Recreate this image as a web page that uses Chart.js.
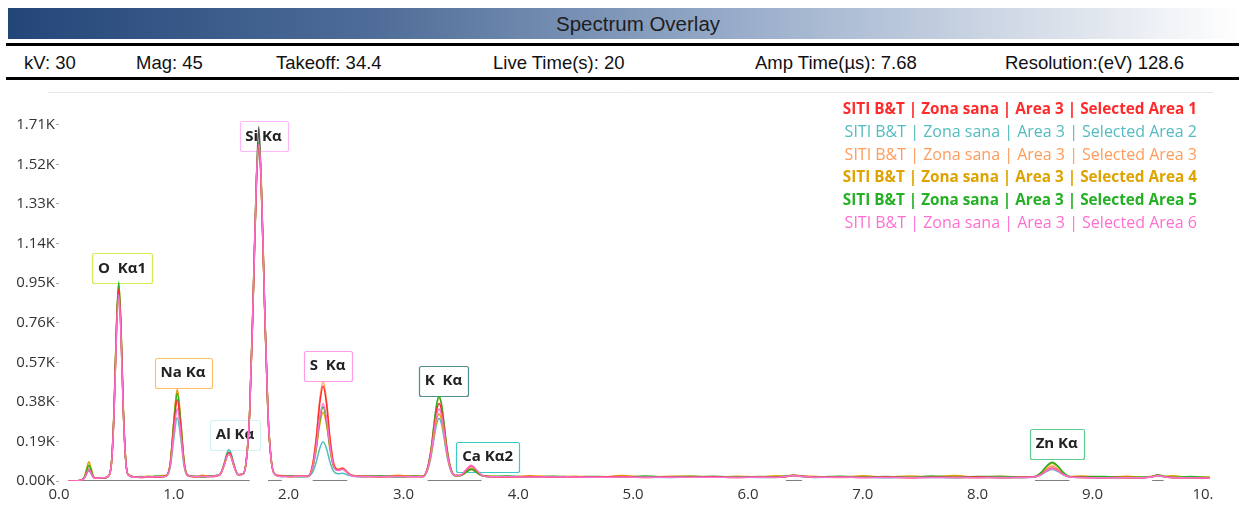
<!DOCTYPE html>
<html>
<head>
<meta charset="utf-8">
<title>Spectrum Overlay</title>
<script src="https://cdn.jsdelivr.net/npm/chart.js@4.4.1/dist/chart.umd.min.js"></script>
<style>
  body { margin: 0; background: #fff; }
  #page { position: relative; width: 1239px; height: 506px; overflow: hidden; font-family: "Liberation Sans", Arial, sans-serif; }
  #banner { position: absolute; left: 8px; top: 8px; width: 1231px; height: 31px;
            background: linear-gradient(to right, #234679 0%, #4f6d98 30%, #9aaecb 60%, #d9e0ea 85%, #ffffff 100%); }
  #banner span { position: absolute; left: 548px; top: 4px; font-size: 20.5px; color: #1e1e1e; }
  .rule { position: absolute; left: 6px; right: 0; height: 3px; background: #000; }
  .info { position: absolute; top: 52px; font-size: 18.5px; color: #111; white-space: nowrap; }
  #plot { position: absolute; left: 0; top: 82px; width: 1213px; height: 424px; overflow: hidden; }
</style>
</head>
<body>
<div id="page">
  <div id="banner"><span>Spectrum Overlay</span></div>
  <div class="rule" style="top:43px"></div>
  <span class="info" style="left:24px">kV: 30</span>
  <span class="info" style="left:136px">Mag: 45</span>
  <span class="info" style="left:276px">Takeoff: 34.4</span>
  <span class="info" style="left:493px">Live Time(s): 20</span>
  <span class="info" style="left:755px">Amp Time(µs): 7.68</span>
  <span class="info" style="left:1005px">Resolution:(eV) 128.6</span>
  <div class="rule" style="top:77px"></div>
  <div id="plot"><canvas id="spectrum" width="1239" height="424"></canvas></div>
</div>
<script>
// energy axis (keV), denser around the peaks
const energy = [
  0.08, 0.14, 0.18,
  0.20, 0.22, 0.24, 0.26, 0.28, 0.30, 0.32,
  0.36, 0.40,
  0.44, 0.46, 0.48, 0.50, 0.52, 0.54, 0.56, 0.58, 0.60,
  0.66, 0.72, 0.78, 0.84, 0.90,
  0.94, 0.97, 1.00, 1.03, 1.06, 1.09, 1.12,
  1.18, 1.25, 1.32,
  1.40, 1.44, 1.46, 1.48, 1.50, 1.52, 1.56,
  1.60, 1.63, 1.66, 1.69, 1.72, 1.74, 1.76, 1.79, 1.82, 1.85, 1.88,
  1.94, 2.02, 2.10, 2.17,
  2.21, 2.24, 2.27, 2.30, 2.33, 2.36, 2.39, 2.43, 2.47, 2.51, 2.55,
  2.65, 2.80, 2.95, 3.10, 3.17,
  3.21, 3.24, 3.27, 3.29, 3.31, 3.33, 3.35, 3.38, 3.41, 3.45,
  3.50, 3.54, 3.59, 3.64, 3.68,
  3.75, 3.90, 4.10, 4.30, 4.50, 4.70, 4.90, 5.10, 5.30, 5.50, 5.70, 5.90, 6.10, 6.25,
  6.33, 6.40, 6.47,
  6.60, 6.80, 7.00, 7.20, 7.40, 7.60, 7.80, 8.00, 8.20, 8.40,
  8.50, 8.55, 8.60, 8.65, 8.70, 8.75, 8.80,
  8.90, 9.10, 9.30, 9.45,
  9.52, 9.57, 9.62,
  9.70, 9.85, 10.02
];

// counts per selected area
const area1 = [
  0, 0, 2,
  6, 14, 36, 55, 38, 18, 13,
  15, 16,
  31, 107, 341, 717, 920, 717, 341, 107, 31,
  19, 17, 20, 18, 21,
  27, 84, 258, 390, 258, 84, 27,
  20, 23, 21,
  30, 81, 118, 135, 118, 81, 30,
  32, 91, 323, 849, 1445, 1600, 1445, 849, 323, 91, 32,
  24, 21, 23, 22,
  81, 200, 369, 455, 369, 201, 87, 54, 60, 42, 26,
  22, 20, 23, 21, 22,
  61, 142, 269, 343, 372, 343, 269, 142, 61, 26,
  28, 49, 72, 49, 28,
  21, 19, 22, 18, 20, 19, 21, 17, 19, 18, 20, 17, 19, 18,
  21, 26, 23,
  18, 19, 17, 19, 16, 18, 17, 19, 16, 18,
  20, 31, 50, 62, 50, 31, 20,
  18, 16, 17, 15,
  20, 26, 21,
  17, 15, 14
];
const area2 = [
  0, 0, 2,
  6, 13, 33, 50, 35, 17, 13,
  14, 15,
  31, 106, 336, 705, 905, 705, 336, 106, 31,
  18, 19, 18, 20, 19,
  25, 69, 204, 305, 204, 69, 25,
  21, 20, 22,
  31, 89, 131, 150, 131, 89, 31,
  32, 91, 321, 844, 1436, 1590, 1436, 844, 321, 91, 32,
  21, 23, 20, 22,
  44, 90, 155, 188, 155, 91, 47, 35, 37, 30, 24,
  20, 22, 19, 21, 20,
  53, 117, 218, 277, 300, 277, 218, 117, 53, 25,
  26, 39, 55, 39, 26,
  20, 21, 19, 20, 18, 20, 19, 18, 17, 19, 18, 18, 17, 18,
  21, 25, 21,
  17, 18, 18, 16, 18, 17, 16, 17, 17, 16,
  20, 29, 45, 55, 45, 29, 20,
  17, 16, 15, 16,
  20, 25, 20,
  16, 15, 14
];
const area3 = [
  0, 0, 2,
  7, 15, 39, 60, 41, 19, 14,
  14, 16,
  31, 108, 343, 720, 925, 720, 343, 108, 31,
  18, 20, 19, 21, 20,
  28, 92, 290, 440, 290, 92, 28,
  22, 21, 24,
  30, 79, 116, 132, 116, 79, 30,
  32, 92, 325, 854, 1454, 1610, 1454, 854, 325, 92, 32,
  23, 22, 25, 21,
  84, 209, 387, 478, 387, 210, 91, 57, 64, 44, 26,
  21, 23, 21, 22, 20,
  64, 151, 288, 367, 398, 367, 288, 151, 64, 26,
  27, 43, 62, 43, 27,
  19, 21, 20, 22, 19, 18, 20, 19, 21, 18, 19, 20, 18, 17,
  22, 28, 22,
  19, 17, 20, 18, 17, 19, 18, 16, 18, 17,
  21, 34, 58, 72, 58, 34, 21,
  16, 18, 16, 17,
  21, 27, 22,
  15, 16, 14
];
const area4 = [
  0, 0, 3,
  7, 19, 59, 92, 61, 23, 14,
  17, 15,
  32, 110, 350, 736, 945, 736, 350, 110, 32,
  20, 17, 24, 19, 26,
  28, 91, 287, 435, 287, 91, 28,
  20, 27, 21,
  30, 77, 112, 128, 112, 77, 30,
  32, 92, 324, 851, 1450, 1605, 1450, 851, 324, 92, 32,
  26, 20, 24, 23,
  64, 149, 269, 330, 269, 150, 70, 51, 57, 41, 28,
  25, 20, 27, 22, 24,
  55, 125, 234, 297, 322, 297, 234, 125, 55, 25,
  26, 39, 55, 39, 26,
  24, 19, 25, 20, 23, 18, 26, 19, 22, 24, 18, 23, 20, 25,
  23, 29, 24,
  22, 18, 25, 19, 24, 20, 26, 18, 23, 19,
  22, 38, 68, 85, 68, 38, 22,
  24, 17, 23, 18,
  23, 29, 22,
  25, 17, 21
];
const area5 = [
  0, 0, 2,
  7, 17, 49, 75, 51, 21, 14,
  16, 14,
  32, 111, 354, 744, 955, 744, 354, 111, 32,
  19, 22, 18, 24, 21,
  28, 89, 278, 420, 278, 89, 28,
  23, 19, 24,
  30, 82, 121, 138, 121, 82, 30,
  32, 93, 328, 862, 1468, 1625, 1468, 862, 328, 93, 32,
  22, 25, 21, 24,
  67, 159, 289, 355, 289, 160, 73, 52, 58, 41, 26,
  23, 25, 20, 24, 22,
  65, 153, 292, 373, 405, 373, 292, 153, 65, 26,
  26, 41, 58, 41, 26,
  22, 24, 19, 23, 20, 22, 18, 24, 20, 21, 23, 19, 22, 20,
  24, 28, 23,
  20, 23, 19, 22, 18, 24, 19, 21, 22, 18,
  22, 39, 71, 90, 71, 39, 22,
  20, 22, 17, 19,
  22, 30, 23,
  18, 21, 16
];
const area6 = [
  0, 0, 2,
  6, 14, 36, 55, 38, 18, 13,
  15, 15,
  31, 105, 332, 697, 895, 697, 332, 105, 31,
  18, 19, 19, 20, 20,
  26, 76, 229, 345, 229, 76, 26,
  21, 22, 22,
  30, 78, 114, 130, 114, 78, 30,
  32, 92, 326, 857, 1459, 1615, 1459, 857, 326, 92, 32,
  22, 22, 23, 22,
  69, 166, 302, 372, 302, 167, 75, 50, 56, 40, 25,
  21, 21, 22, 20, 21,
  58, 133, 250, 318, 345, 318, 250, 133, 58, 26,
  28, 51, 76, 51, 28,
  20, 20, 19, 19, 19, 18, 19, 18, 18, 18, 18, 17, 18, 18,
  22, 26, 22,
  18, 18, 17, 17, 17, 17, 17, 16, 17, 17,
  20, 30, 49, 60, 49, 30, 20,
  17, 16, 16, 16,
  20, 26, 21,
  16, 15, 14
];
// dark trace: zero line under the peaks plus the Si Kα tip (null = not drawn)
const darkTrace = [
  null, null, null,
  0, 0, 0, 0, 0, 0, 0,
  0, 0,
  0, 0, 0, 0, 0, 0, 0, 0, 0,
  0, 0, 0, 0, 0,
  0, 0, 0, 0, 0, 0, 0,
  0, 0, 0,
  0, 0, 0, 0, 0, 0, 0,
  0, 0, 0, null, 1459, 1700, 1459, null, 0, 0, 0,
  0, null, null, null,
  0, 0, 0, 0, 0, 0, 0, 0, 0, 0, null,
  null, null, null, null, null,
  0, 0, 0, 0, 0, 0, 0, 0, 0, 0,
  0, 0, 0, 0, 0,
  null, null, null, null, null, null, null, null, null, null, null, null, null, null,
  0, 0, 0,
  null, null, null, null, null, null, null, null, null, null,
  0, 0, 0, 0, 0, 0, 0,
  null, null, null, null,
  0, 0, 0,
  null, null, null
];

const seriesLabels = [
  'SITI B&T | Zona sana | Area 3 | Selected Area 1',
  'SITI B&T | Zona sana | Area 3 | Selected Area 2',
  'SITI B&T | Zona sana | Area 3 | Selected Area 3',
  'SITI B&T | Zona sana | Area 3 | Selected Area 4',
  'SITI B&T | Zona sana | Area 3 | Selected Area 5',
  'SITI B&T | Zona sana | Area 3 | Selected Area 6'
];
const seriesColors = ['#ff2b2b', '#52bcc0', '#ff9c5c', '#dfa300', '#25b025', '#ff6fd2'];
const seriesBold = [true, false, false, true, true, false];
// drawing order: lower sits on top
const seriesOrder = [2, 6, 5, 4, 3, 1];

// element markers: label, box centre (keV), box bottom (counts), border colour
const peakNames = ['O  Kα1', 'Na Kα', 'Al Kα', 'Si Kα', 'S  Kα', 'K  Kα', 'Ca Kα2', 'Zn Kα'];
const peakLabelKeV = [0.549, 1.080, 1.533, 1.781, 2.339, 3.349, 3.733, 8.689];
const peakLabelCounts = [948, 448, 148, 1582, 481, 410, 43, 105];
const peakColors = ['#d2ec55', '#ffc266', '#d2f4f4', '#ffb6fb', '#ff9cf0', '#4f8c8c', '#3cc9c9', '#5ccd8c'];

const xTicks = [0, 1, 2, 3, 4, 5, 6, 7, 8, 9, 10];
const yTicks = [0, 190, 380, 570, 760, 950, 1140, 1330, 1520, 1710];

const toPoints = arr => energy.map((e, i) => ({ x: e, y: arr[i] }));

const areas = [area1, area2, area3, area4, area5, area6];
const datasets = areas.map((arr, i) => ({
  label: seriesLabels[i],
  data: toPoints(arr),
  borderColor: seriesColors[i],
  order: seriesOrder[i]
}));
datasets.push({
  label: 'trace',
  data: toPoints(darkTrace),
  borderColor: '#555555',
  spanGaps: false,
  order: 7
});

const plotFrame = {
  id: 'plotFrame',
  beforeDraw(chart) {
    const { ctx, chartArea } = chart;
    ctx.save();
    ctx.strokeStyle = '#e6e6e6';
    ctx.lineWidth = 1;
    ctx.beginPath();
    ctx.moveTo(48, chartArea.top + 0.5);
    ctx.lineTo(chartArea.right, chartArea.top + 0.5);
    ctx.stroke();
    ctx.restore();
  }
};

const peakBoxes = {
  id: 'peakBoxes',
  beforeDatasetsDraw(chart) {
    const { ctx, scales: { x, y } } = chart;
    ctx.save();
    ctx.font = 'bold 15px "Open Sans"';
    ctx.textAlign = 'center';
    ctx.textBaseline = 'middle';
    peakNames.forEach((name, i) => {
      const cx = x.getPixelForValue(peakLabelKeV[i]);
      const bottom = y.getPixelForValue(peakLabelCounts[i]);
      const w = Math.round(ctx.measureText(name).width + 12);
      ctx.fillStyle = '#fff';
      ctx.strokeStyle = peakColors[i];
      ctx.lineWidth = 1.2;
      ctx.beginPath();
      ctx.roundRect(Math.round(cx - w / 2) + 0.5, Math.round(bottom - 30) + 0.5, w, 30, 2);
      ctx.fill();
      ctx.stroke();
      ctx.fillStyle = '#222';
      ctx.fillText(name, cx, bottom - 15);
    });
    ctx.restore();
  }
};

const overlayLegend = {
  id: 'overlayLegend',
  afterDraw(chart) {
    const ctx = chart.ctx;
    ctx.save();
    ctx.textAlign = 'right';
    ctx.textBaseline = 'middle';
    seriesLabels.forEach((txt, i) => {
      ctx.font = seriesBold[i] ? 'bold 15.3px "Open Sans"' : '16px "Open Sans"';
      ctx.fillStyle = seriesColors[i];
      ctx.fillText(txt, 1197, 28 + i * 22.6);
    });
    ctx.restore();
  }
};

Chart.defaults.font.family = '"Open Sans", sans-serif';

new Chart(document.getElementById('spectrum'), {
  type: 'line',
  data: { datasets },
  options: {
    responsive: false,
    animation: false,
    events: [],
    layout: { padding: { top: 7, right: 26, bottom: 0, left: 0 } },
    plugins: { legend: { display: false }, tooltip: { enabled: false } },
    elements: {
      point: { radius: 0 },
      line: { borderWidth: 1.5, cubicInterpolationMode: 'monotone' }
    },
    scales: {
      x: {
        type: 'linear',
        min: 0,
        max: 10.05,
        afterBuildTicks: s => { s.ticks = xTicks.map(v => ({ value: v })); },
        afterFit: s => { s.height = 25; },
        grid: { display: false, drawTicks: false },
        border: { display: false },
        ticks: { padding: 5, color: '#333', font: { size: 15 }, maxRotation: 0, autoSkip: false,
                 callback: v => v.toFixed(1) }
      },
      y: {
        min: 0,
        max: 1867,
        afterBuildTicks: s => { s.ticks = yTicks.map(v => ({ value: v })); },
        afterFit: s => { s.width = 59; },
        grid: { drawOnChartArea: false, tickLength: 3, color: '#aaa' },
        border: { display: false },
        ticks: { padding: 1, color: '#333', font: { size: 15 },
                 callback: v => (v / 1000).toFixed(2) + 'K' }
      }
    }
  },
  plugins: [plotFrame, peakBoxes, overlayLegend]
});
</script>
</body>
</html>
